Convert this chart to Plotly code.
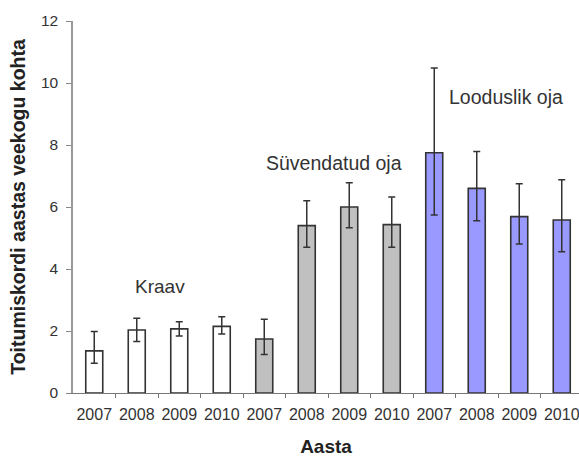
import numpy as np
import plotly.graph_objects as go

years = ["2007", "2008", "2009", "2010"]
groups = ["Kraav", "Süvendatud oja", "Looduslik oja"]

kraav_mean = [1.36, 2.03, 2.07, 2.15]
kraav_plus = [0.62, 0.38, 0.23, 0.31]
kraav_minus = [0.40, 0.37, 0.23, 0.25]

suv_mean = [1.74, 5.40, 6.00, 5.43]
suv_plus = [0.64, 0.80, 0.78, 0.89]
suv_minus = [0.50, 0.70, 0.67, 0.73]

lood_mean = [7.75, 6.60, 5.69, 5.58]
lood_plus = [2.73, 1.19, 1.06, 1.30]
lood_minus = [2.01, 1.04, 0.88, 1.02]

fills = ["#ffffff", "#c0c0c0", "#9999ff"]
FONT = "Liberation Sans, Arial, sans-serif"

series = [
    (kraav_mean, kraav_plus, kraav_minus),
    (suv_mean, suv_plus, suv_minus),
    (lood_mean, lood_plus, lood_minus),
]

fig = go.Figure()
tick_labels = []
for gi, (m, p, mi) in enumerate(series):
    xs = np.arange(len(m)) + gi * len(years)
    tick_labels += years
    fig.add_trace(go.Bar(
        x=xs, y=m, width=0.4, name=groups[gi],
        marker=dict(color=fills[gi], line=dict(color="#333333", width=1.6)),
        error_y=dict(type="data", symmetric=False, array=p, arrayminus=mi,
                     color="#333333", thickness=1.5, width=3.5),
        showlegend=False,
    ))

n = len(tick_labels)
fig.update_layout(
    width=579, height=457,
    margin=dict(l=73, r=0, t=21, b=64),
    paper_bgcolor="white", plot_bgcolor="white",
    font=dict(family=FONT, color="#333333"),
    xaxis=dict(
        range=[-0.5, 11.406], automargin=False,
        tickmode="array", tickvals=list(range(n)), ticktext=tick_labels,
        ticklabeloverflow="allow", ticklabelstandoff=7,
        ticks="", tickfont=dict(size=16, color="#333333"),
        showline=True, linecolor="#777777", linewidth=1.2,
        showgrid=False, zeroline=False,
        minor=dict(tickvals=[i + 0.5 for i in range(n - 1)], ticks="outside",
                   ticklen=4, tickcolor="#777777", showgrid=False),
        title=dict(text="<b>Aasta</b>", font=dict(size=19, color="#222222"), standoff=19),
    ),
    yaxis=dict(
        range=[0, 12], tickvals=[0, 2, 4, 6, 8, 10, 12], automargin=False,
        ticklabeloverflow="allow", ticklabelstandoff=5,
        ticks="outside", ticklen=5, tickcolor="#888888",
        tickfont=dict(size=15.5, color="#333333"),
        showline=True, linecolor="#999999", linewidth=1.5,
        showgrid=False, zeroline=False,
        title=dict(text="<b>Toitumiskordi aastas veekogu kohta</b>",
                   font=dict(size=19.5, color="#222222"), standoff=10),
    ),
    annotations=[
        dict(x=0.92, y=3.42, xref="x", yref="y", text="Kraav", showarrow=False,
             xanchor="left", yanchor="middle", font=dict(size=19, color="#333333")),
        dict(x=4.0, y=7.42, xref="x", yref="y", text="Süvendatud oja", showarrow=False,
             xanchor="left", yanchor="middle", font=dict(size=19.5, color="#333333")),
        dict(x=8.3, y=9.55, xref="x", yref="y", text="Looduslik oja", showarrow=False,
             xanchor="left", yanchor="middle", font=dict(size=19.5, color="#333333")),
    ],
)

fig.write_html(
    "out.html",
    config={"displayModeBar": False},
    post_script="document.body.style.margin='0';document.body.style.overflow='hidden';",
)
